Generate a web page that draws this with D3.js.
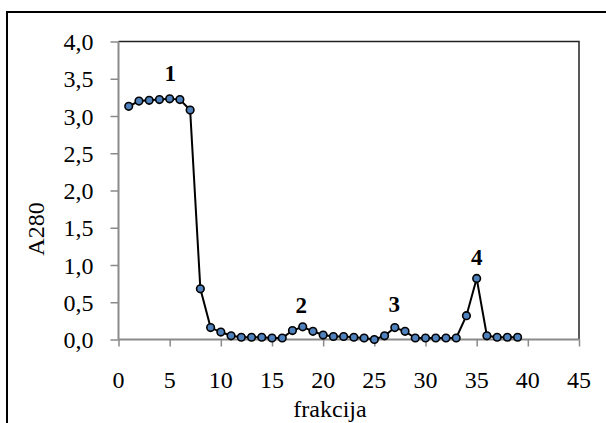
<!DOCTYPE html>
<html><head><meta charset="utf-8">
<script src="https://cdn.jsdelivr.net/npm/d3@7"></script>
</head><body style="margin:0">
<svg id="c" width="606" height="423"></svg>
<script>
const fractions = [1,2,3,4,5,6,7,8,9,10,11,12,13,14,15,16,17,18,19,20,21,22,23,24,25,26,27,28,29,30,31,32,33,34,35,36,37,38,39];
const a280 = [3.13,3.20,3.21,3.22,3.23,3.22,3.08,0.68,0.16,0.10,0.05,0.03,0.03,0.03,0.02,0.02,0.12,0.17,0.11,0.06,0.04,0.04,0.03,0.02,0.00,0.05,0.16,0.11,0.02,0.02,0.02,0.02,0.02,0.32,0.82,0.05,0.03,0.03,0.03];
const xTicks = [0,5,10,15,20,25,30,35,40,45];
const yTicks = [0,0.5,1,1.5,2,2.5,3,3.5,4];
const peakLabels = ["1","2","3","4"];
const peakX = [5,18,27,35];
const peakY = [3.23,0.17,0.16,0.82];

const FONT = "Times New Roman";
const svg = d3.select("#c");
const L = 118.5, R = 579, T = 41.5, B = 339.5;
const x = d3.scaleLinear().domain([0,45]).range([L,R]);
const y = d3.scaleLinear().domain([0,4]).range([B,T]);

svg.append("rect").attr("x",7).attr("y",12).attr("width",640).attr("height",440)
  .attr("fill","none").attr("stroke","#000").attr("stroke-width",2);
svg.append("path").attr("d",`M${L},${T}H${R}V${B}`).attr("fill","none").attr("stroke","#222").attr("stroke-width",1.5);

const yAxis = svg.append("g").attr("transform",`translate(${L},0)`)
  .call(d3.axisLeft(y).tickValues(yTicks).tickSize(8).tickFormat(""));
const xAxis = svg.append("g").attr("transform",`translate(0,${B})`)
  .call(d3.axisBottom(x).tickValues(xTicks).tickSize(7).tickFormat(""));
[yAxis,xAxis].forEach(g=>{
  g.select(".domain").attr("stroke","#8a8a8a").attr("stroke-width",2);
  g.selectAll(".tick line").attr("stroke","#8a8a8a").attr("stroke-width",1.5);
  g.selectAll("text").remove();
});
yAxis.select(".domain").attr("d",`M0,${B}V${T}`);
xAxis.select(".domain").attr("d",`M${L},0H${R}`);

function serif(sel, size, weight){
  return sel.attr("font-family",FONT).attr("font-size",size)
    .style("font-family",FONT).style("font-size",size+"px").style("font-weight",weight||"normal");
}

serif(svg.selectAll("text.yl").data(yTicks).enter().append("text")
  .attr("x",L-25).attr("y",d=>y(d)+8.5).attr("text-anchor","end"), 24)
  .text(d=>d3.format(".1f")(d).replace(".",","));
serif(svg.selectAll("text.xl").data(xTicks).enter().append("text")
  .attr("x",d=>x(d)).attr("y",B+48).attr("text-anchor","middle"), 24)
  .text(d=>String(d));

serif(svg.append("text").attr("x",330).attr("y",417).attr("text-anchor","middle"), 24).text("frakcija");
serif(svg.append("text").attr("transform","translate(44,229) rotate(-90)").attr("text-anchor","middle"), 24).text("A280");

const data = fractions.map((f,i)=>({f, v:a280[i]}));
svg.append("path").datum(data)
  .attr("d",d3.line().x(d=>x(d.f)).y(d=>y(d.v)))
  .attr("fill","none").attr("stroke","#000").attr("stroke-width",2);
svg.selectAll("circle.pt").data(data).enter().append("circle")
  .attr("cx",d=>x(d.f)).attr("cy",d=>y(d.v)).attr("r",3.8)
  .attr("fill","#4F81BD").attr("stroke","#000").attr("stroke-width",1.6);

serif(svg.selectAll("text.pk").data(peakLabels).enter().append("text")
  .attr("x",(d,i)=>x(peakX[i]) + [0.5,-1.5,-0.5,0][i])
  .attr("y",(d,i)=>y(peakY[i]) - [18,14,16,13][i])
  .attr("text-anchor","middle"), 23, "bold")
  .text(d=>d);
</script>
</body></html>
